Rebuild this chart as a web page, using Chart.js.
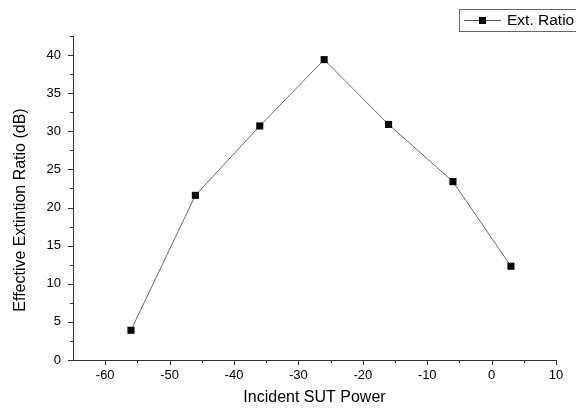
<!DOCTYPE html>
<html>
<head>
<meta charset="utf-8">
<script src="https://cdn.jsdelivr.net/npm/chart.js@4"></script>
<style>
html,body{margin:0;padding:0;background:#fff;}
#wrap{width:576px;height:410px;position:relative;}
</style>
</head>
<body>
<div id="wrap"><canvas id="c" width="576" height="410"></canvas></div>
<script>
const incidentPower = [-56, -46, -36, -26, -16, -6, 3];
const extRatio = [3.9, 21.6, 30.7, 39.4, 30.9, 23.4, 12.3];
const seriesName = 'Ext. Ratio';
const xTitle = 'Incident SUT Power';
const yTitle = 'Effective Extintion Ratio (dB)';
const xMajorTicks = [-60, -50, -40, -30, -20, -10, 0, 10];
const xMinorTicks = [-55, -45, -35, -25, -15, -5, 5];
const yMajorTicks = [0, 5, 10, 15, 20, 25, 30, 35, 40];
const yMinorTicks = [2.5, 7.5, 12.5, 17.5, 22.5, 27.5, 32.5, 37.5, 42.5];

const FONT = "'Liberation Sans', Arial, sans-serif";

const tickPlugin = {
  id: 'originTicks',
  afterDraw(chart) {
    const ctx = chart.ctx;
    const xs = chart.scales.x, ys = chart.scales.y;
    const ca = chart.chartArea;
    const bottom = ca.bottom, left = ca.left;
    ctx.save();
    ctx.strokeStyle = '#333';
    ctx.lineWidth = 1;
    ctx.beginPath();
    xMajorTicks.forEach(v => { const p = Math.round(xs.getPixelForValue(v)) + 0.5; ctx.moveTo(p, bottom); ctx.lineTo(p, bottom + 5); });
    xMinorTicks.forEach(v => { const p = Math.round(xs.getPixelForValue(v)) + 0.5; ctx.moveTo(p, bottom); ctx.lineTo(p, bottom + 3); });
    yMajorTicks.forEach(v => { const p = Math.round(ys.getPixelForValue(v)) + 0.5; ctx.moveTo(left, p); ctx.lineTo(left - 5, p); });
    yMinorTicks.forEach(v => { const p = Math.round(ys.getPixelForValue(v)) + 0.5; ctx.moveTo(left, p); ctx.lineTo(left - 3, p); });
    ctx.stroke();

    // axis titles
    ctx.fillStyle = '#000';
    ctx.font = '16px ' + FONT;
    ctx.textAlign = 'center';
    ctx.textBaseline = 'middle';
    ctx.fillText(xTitle, (ca.left + ca.right) / 2, 398);
    ctx.save();
    ctx.translate(21, 210);
    ctx.rotate(-Math.PI / 2);
    ctx.fillText(yTitle, 0, 0);
    ctx.restore();

    // legend
    const bx = 459.5, by = 9.5, bh = 22;
    ctx.strokeStyle = '#666';
    ctx.strokeRect(bx, by, 130, bh);
    const ly = by + bh / 2;
    ctx.strokeStyle = '#555';
    ctx.beginPath();
    ctx.moveTo(464, ly); ctx.lineTo(501, ly);
    ctx.stroke();
    ctx.fillStyle = '#000';
    ctx.fillRect(479, ly - 3.5, 7, 7);
    ctx.font = '15.5px ' + FONT;
    ctx.textBaseline = 'middle';
    ctx.textAlign = 'left';
    ctx.fillText(seriesName, 507, ly);
    ctx.restore();
  }
};

new Chart(document.getElementById('c'), {
  type: 'line',
  data: {
    datasets: [{
      label: seriesName,
      data: incidentPower.map((x, i) => ({ x: x, y: extRatio[i] })),
      borderColor: '#6a6a6a',
      borderWidth: 1,
      pointStyle: 'rect',
      pointRadius: 5,
      pointBackgroundColor: '#000',
      pointBorderColor: '#000',
      pointBorderWidth: 0,
      tension: 0,
      fill: false
    }]
  },
  options: {
    responsive: false,
    animation: false,
    events: [],
    layout: { padding: { left: 0, right: 20, top: 36, bottom: 0 } },
    plugins: { legend: { display: false }, tooltip: { enabled: false } },
    scales: {
      x: {
        type: 'linear',
        min: -65, max: 10,
        afterBuildTicks: s => { s.ticks = xMajorTicks.map(v => ({ value: v })); },
        afterFit: s => { s.height = 50; },
        grid: { display: false, drawTicks: false },
        border: { display: true, color: '#333', width: 1 },
        ticks: { color: '#000', padding: 8, maxRotation: 0, font: { family: FONT, size: 13 } },
        title: { display: false }
      },
      y: {
        type: 'linear',
        min: 0, max: 42.5,
        afterBuildTicks: s => { s.ticks = yMajorTicks.map(v => ({ value: v })); },
        afterFit: s => { s.width = 73; },
        grid: { display: false, drawTicks: false },
        border: { display: true, color: '#333', width: 1 },
        ticks: { color: '#000', padding: 12, font: { family: FONT, size: 13 } },
        title: { display: false }
      }
    }
  },
  plugins: [tickPlugin]
});
</script>
</body>
</html>
